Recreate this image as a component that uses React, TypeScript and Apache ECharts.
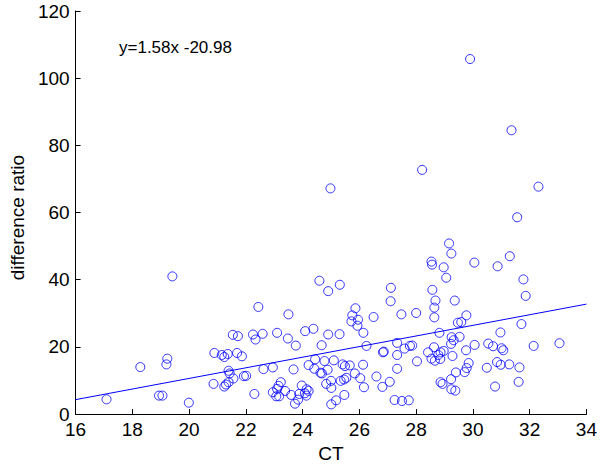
import React, { useEffect, useRef } from "react";
import * as echarts from "echarts";

const ctValues: number[] = [
  19.41, 17.09, 18.28, 19.23, 19.2, 18.94, 19.06, 19.99, 20.89, 20.86, 21.15, 21.24,
  21.36, 21.54, 21.72, 21.69, 21.86, 21.39, 21.43, 21.56, 21.39, 21.3, 21.24, 21.93,
  22.25, 22.34, 22.59, 22.44, 23.1, 23.48, 23.76, 23.5, 24.09, 24.38, 24.59, 24.9,
  25.31, 24.9, 25.3, 24.67, 25.86, 25.75, 25.72, 25.95, 25.93, 26.14, 26.5, 27.11,
  27.1, 27.48, 26.25, 27.33, 27.59, 27.78, 26.83, 26.86, 27.33, 27.33, 22.01, 22.3,
  22.62, 22.95, 23.68, 24.44, 24.77, 25.1, 24.21, 24.41, 24.63, 24.68, 24.88, 25.41,
  25.49, 25.66, 26.13, 25.84, 25.54, 25.46, 25.34, 26.03, 25.0, 24.83, 25.01, 26.16,
  26.6, 26.81, 27.07, 23.23, 23.15, 23.1, 22.95, 23.07, 23.17, 23.38, 23.6, 23.88,
  23.97, 24.14, 24.21, 24.08, 24.13, 23.84, 23.73, 25.47, 25.18, 25.01, 27.24, 27.5,
  27.74, 28.0, 29.06, 28.57, 28.68, 28.64, 28.64, 29.36, 29.47, 29.59, 29.77, 31.78,
  31.86, 31.71, 28.82, 29.53, 29.25, 29.32, 29.23, 27.86, 28.63, 28.42, 28.86, 28.97,
  28.78, 28.54, 28.66, 28.85, 29.28, 28.03, 29.76, 30.06, 30.54, 30.71, 31.01, 31.07,
  30.97, 29.85, 29.78, 29.71, 29.4, 29.23, 28.86, 28.93, 29.24, 29.38, 30.49, 30.85,
  30.98, 31.28, 31.64, 30.78, 31.61, 32.14, 33.05, 24.98, 28.21, 32.31, 31.56, 29.16,
  29.24, 28.54, 28.56, 28.97, 30.05, 30.87, 31.3, 29.9, 31.36,
];

const ratioValues: number[] = [
  41.0, 4.4, 14.0, 16.5, 14.8, 5.5, 5.5, 3.4, 18.2, 9.0, 17.6, 17.0,
  17.9, 23.6, 23.2, 18.2, 17.2, 12.9, 12.1, 10.6, 9.5, 8.8, 8.2, 11.3,
  23.7, 22.2, 23.9, 31.9, 24.2, 22.5, 20.4, 29.7, 24.7, 25.4, 39.7, 36.6,
  38.5, 23.7, 23.8, 20.5, 31.5, 29.4, 27.6, 28.1, 26.3, 24.2, 28.9, 37.6,
  33.6, 29.7, 20.3, 21.2, 19.5, 20.3, 18.4, 18.6, 17.6, 13.5, 11.4, 6.0,
  13.4, 13.9, 13.3, 16.3, 15.8, 16.0, 14.6, 13.5, 12.3, 12.1, 13.2, 14.8,
  14.3, 14.5, 14.7, 12.1, 10.8, 10.3, 9.9, 10.7, 9.9, 9.0, 7.8, 8.0,
  11.2, 8.1, 9.6, 9.5, 8.4, 7.5, 6.5, 5.3, 5.3, 6.9, 5.7, 6.0,
  8.5, 7.4, 6.9, 6.2, 5.5, 4.3, 3.1, 5.7, 4.1, 2.9, 4.2, 3.9,
  4.1, 30.1, 40.6, 37.0, 33.8, 31.7, 28.8, 33.8, 27.2, 27.4, 29.4, 40.1,
  35.2, 26.8, 24.2, 23.0, 22.9, 22.0, 20.9, 20.4, 19.9, 18.4, 18.4, 18.8,
  17.6, 16.5, 15.9, 16.4, 17.3, 15.7, 19.0, 20.6, 21.0, 20.2, 19.6, 19.0,
  24.3, 15.2, 13.7, 12.5, 12.4, 10.4, 9.5, 9.0, 7.4, 7.0, 13.8, 15.5,
  14.7, 14.8, 13.9, 8.2, 9.6, 20.3, 21.1, 67.2, 72.7, 67.7, 58.6, 50.8,
  47.8, 45.4, 44.5, 43.7, 45.1, 44.0, 47.0, 105.7, 84.5,
];

const fitLineX: number[] = [16, 34];
const fitLineY: number[] = [4.3, 32.74];
const equationText = "y=1.58x -20.98";

const xTicks = { min: 16, max: 34, interval: 2 };
const yTicks = { min: 0, max: 120, interval: 20 };

const FONT = '"Liberation Sans", Arial, sans-serif';

export default function App() {
  const ref = useRef<HTMLDivElement>(null);

  useEffect(() => {
    if (!ref.current) return;
    const chart = echarts.init(ref.current, undefined, { renderer: "svg" });
    const points = ctValues.map((x, i) => [x, ratioValues[i]]);
    const line = fitLineX.map((x, i) => [x, fitLineY[i]]);
    const axisCommon = {
      axisLine: { show: true, onZero: false, lineStyle: { color: "#000", width: 1 } },
      axisTick: { show: true, inside: true, length: 5, lineStyle: { color: "#000", width: 1 } },
      splitLine: { show: false },
      axisLabel: { color: "#000", fontSize: 19, lineHeight: 15, fontFamily: FONT },
      nameTextStyle: { color: "#000", fontSize: 19, fontFamily: FONT },
    };
    chart.setOption({
      animation: false,
      backgroundColor: "#fff",
      grid: { left: 67, right: 11, top: 11, bottom: 48, containLabel: false },
      xAxis: {
        type: "value",
        ...xTicks,
        ...axisCommon,
        axisLabel: { ...axisCommon.axisLabel, margin: 8 },
        name: "CT",
        nameLocation: "middle",
        nameGap: 24,
      },
      yAxis: {
        type: "value",
        ...yTicks,
        ...axisCommon,
        axisLabel: { ...axisCommon.axisLabel, margin: 6 },
        name: "difference ratio",
        nameLocation: "middle",
        nameGap: 44,
        nameTextStyle: { ...axisCommon.nameTextStyle, padding: [0, 10, 0, 0] },
      },
      graphic: [
        {
          type: "text",
          left: 119,
          top: 39,
          style: { text: equationText, font: `17px ${FONT}`, fill: "#000" },
        },
      ],
      series: [
        {
          type: "scatter",
          data: points,
          symbol: "circle",
          symbolSize: 9,
          itemStyle: { color: "transparent", borderColor: "#0000ff", borderWidth: 1 },
          z: 3,
        },
        {
          type: "line",
          data: line,
          symbol: "none",
          lineStyle: { color: "#0000ff", width: 1 },
          z: 2,
        },
      ],
    });
    return () => chart.dispose();
  }, []);

  return <div ref={ref} style={{ width: 600, height: 468, position: "absolute", left: 0, top: 0 }} />;
}
